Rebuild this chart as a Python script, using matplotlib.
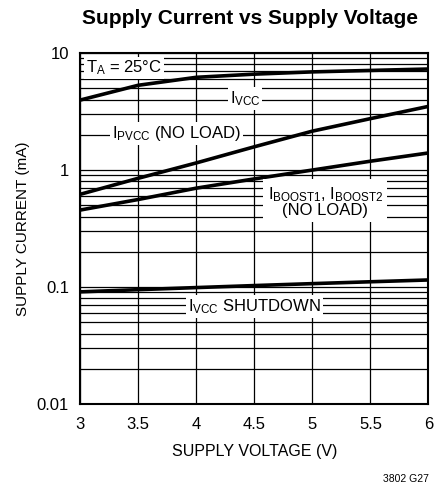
import matplotlib
matplotlib.use("Agg")
import matplotlib.pyplot as plt
import numpy as np
from matplotlib.ticker import LogLocator, FixedLocator, NullFormatter

plt.rcParams['font.family'] = ['Liberation Sans Narrow', 'Liberation Sans', 'DejaVu Sans']
plt.rcParams['mathtext.default'] = 'regular'

voltage = [3.0, 3.5, 4.0, 4.5, 5.0, 5.5, 6.0]
i_vcc = [3.96, 5.3, 6.2, 6.6, 6.9, 7.1, 7.3]
i_pvcc = [0.62, 0.85, 1.15, 1.58, 2.15, 2.75, 3.5]
i_boost = [0.455, 0.56, 0.70, 0.84, 1.0, 1.19, 1.4]
i_shutdown = [0.091, 0.095, 0.099, 0.103, 0.107, 0.111, 0.115]

xticks = [3, 3.5, 4, 4.5, 5, 5.5, 6]
xticklabels = ['3', '3.5', '4', '4.5', '5', '5.5', '6']
yticks = [0.01, 0.1, 1, 10]
yticklabels = ['0.01', '0.1', '1', '10']

fig = plt.figure(figsize=(4.35, 4.91), dpi=100)
ax = fig.add_axes([0.184, 0.177, 0.801, 0.715])

ax.set_yscale('log')
ax.set_xlim(3, 6)
ax.set_ylim(0.01, 10)

ax.yaxis.set_major_locator(FixedLocator(yticks))
ax.set_yticklabels(yticklabels)
ax.yaxis.set_minor_locator(LogLocator(base=10, subs=np.arange(2, 10)))
ax.yaxis.set_minor_formatter(NullFormatter())
ax.set_xticks(xticks)
ax.set_xticklabels(xticklabels)

ax.grid(True, which='both', color='black', linewidth=0.9)
ax.tick_params(which='both', length=0, labelsize=12)
ax.tick_params(axis='x', pad=9)
ax.tick_params(axis='y', pad=8)
for s in ax.spines.values():
    s.set_linewidth(1.5)

lw = 2.6
for ys in (i_vcc, i_pvcc, i_boost, i_shutdown):
    ax.plot(voltage, ys, color='black', linewidth=lw, solid_capstyle='butt', zorder=3)

box = dict(facecolor='white', edgecolor='none', pad=1.5)
fs = 12
ax.text(3.05, 7.45, r'T$_A$ = 25°C', fontsize=fs, ha='left', va='center', bbox=box, zorder=4)
ax.text(4.42, 4.1, r'I$_{VCC}$', fontsize=fs, ha='center', va='center', bbox=box, zorder=4)
ax.text(3.83, 2.07, r'I$_{PVCC}$ (NO LOAD)', fontsize=fs, ha='center', va='center', bbox=box, zorder=4)
ax.text(5.11, 0.54, 'I$_{BOOST1}$, I$_{BOOST2}$\n(NO LOAD)', fontsize=fs, ha='center', va='center',
        linespacing=0.95, bbox=dict(facecolor='white', edgecolor='none', pad=3), zorder=4)
ax.text(4.50, 0.068, r'I$_{VCC}$ SHUTDOWN', fontsize=fs, ha='center', va='center', bbox=box, zorder=4)

ax.set_xlabel('SUPPLY VOLTAGE (V)', fontsize=11.5, labelpad=9)
ax.set_ylabel('SUPPLY CURRENT (mA)', fontsize=11, labelpad=5)
fig.text(0.575, 0.962, 'Supply Current vs Supply Voltage', fontsize=15, fontweight='bold',
         ha='center', va='center')
fig.text(0.985, 0.025, '3802 G27', fontsize=7.5, ha='right', va='center')

fig.savefig('out.png', dpi=100)
